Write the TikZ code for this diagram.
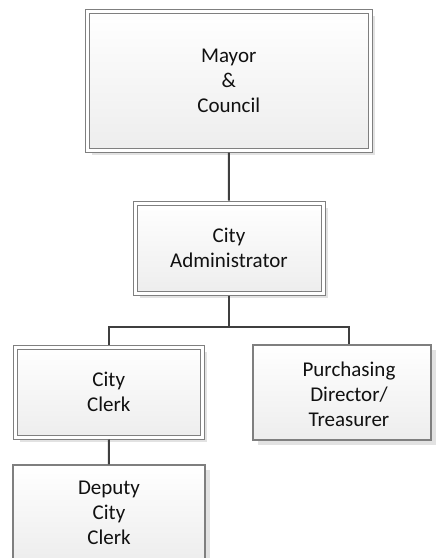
\documentclass[tikz,border=0pt]{standalone}
\usepackage{fontspec}
\setmainfont{Carlito}
\usetikzlibrary{shadows}
\definecolor{boxline}{HTML}{7F7F7F}
\definecolor{wirecol}{HTML}{3F3F3F}
\definecolor{shadowgray}{HTML}{E2E2E2}
\definecolor{inkcol}{HTML}{111111}
\begin{document}
\begin{tikzpicture}[x=1pt,y=-1pt,
  font=\fontsize{21}{25}\selectfont,
  card/.style={rectangle, inner sep=0pt, top color=white, bottom color=black!7,
    draw=boxline, line width=1pt, text=inkcol, align=center,
    drop shadow={shadow xshift=4.5pt, shadow yshift=-4.5pt, fill=shadowgray, opacity=1}},
  dcard/.style={card, double=white, double distance=3pt, outer sep=2.5pt},
  scard/.style={card, line width=1.2pt, outer sep=0.6pt},
  wire/.style={draw=wirecol, line width=2pt}]
\useasboundingbox (0,0) rectangle (436,558);

% boxes
\node[dcard, minimum width=283.5pt, minimum height=139pt] (mayor) at (228.75,80.5)
  {Mayor\\ \&\\ Council};
\node[dcard, minimum width=188pt, minimum height=90pt] (admin) at (229,248)
  {City\\ Administrator};
\node[dcard, minimum width=187.5pt, minimum height=90pt] (clerk) at (108.75,392)
  {City\\ Clerk};
\node[scard, minimum width=178pt, minimum height=95pt] (purch) at (342,392.5) {};
\node[align=center, text=inkcol] (purchtext) at (349,394) {Purchasing\\ Director/\\ Treasurer};
\node[scard, minimum width=192pt, minimum height=96pt] (deputy) at (109,513)
  {Deputy\\ City\\ Clerk};

% reporting lines
\coordinate (bus) at (229,327);
\draw[wire] (mayor.south) -- (admin.north);
\draw[wire] (admin.south) -- (bus);
\draw[wire] (clerk.north) |- (bus) -| (purchtext |- purch.north);
\draw[wire] (clerk.south) -- (deputy.north);
\end{tikzpicture}
\end{document}
